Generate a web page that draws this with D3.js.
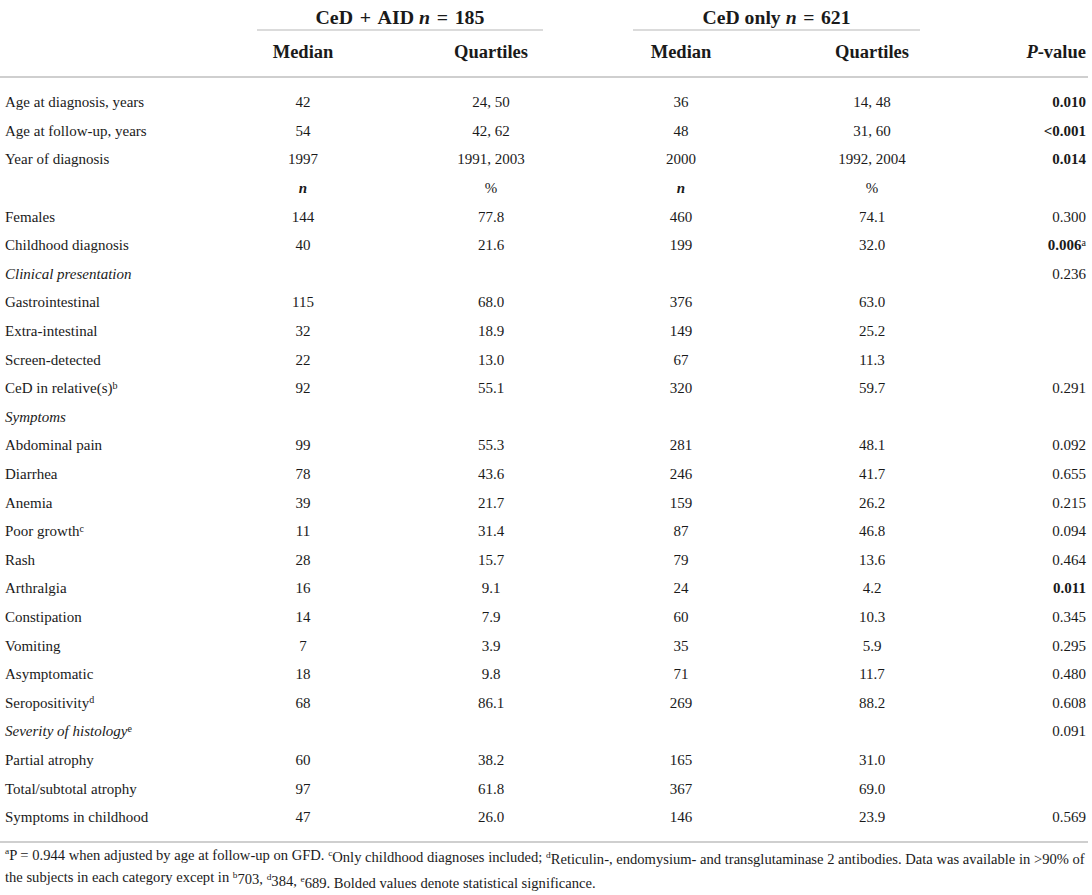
<!DOCTYPE html>
<html>
<head>
<meta charset="utf-8">
<script src="https://cdn.jsdelivr.net/npm/d3@7"></script>
<style>
  body { margin: 0; background: #fff; }
  text { font-family: "Liberation Serif", "Times New Roman", serif; fill: #1a1a1a; }
</style>
</head>
<body>
<script>
(function() {
    // table data
    var labels = ["Age at diagnosis, years", "Age at follow-up, years", "Year of diagnosis", "",
        "Females", "Childhood diagnosis", "Clinical presentation", "Gastrointestinal",
        "Extra-intestinal", "Screen-detected", "CeD in relative(s)", "Symptoms",
        "Abdominal pain", "Diarrhea", "Anemia", "Poor growth", "Rash", "Arthralgia",
        "Constipation", "Vomiting", "Asymptomatic", "Seropositivity", "Severity of histology",
        "Partial atrophy", "Total/subtotal atrophy", "Symptoms in childhood"];
    var labelSups = ["", "", "", "", "", "", "", "", "", "", "b", "", "", "", "", "c", "", "",
        "", "", "", "d", "e", "", "", ""];
    var italicRows = [6, 11, 22];
    var subHeadRow = 3;

    var aidMedian = ["42", "54", "1997", "n", "144", "40", "", "115", "32", "22", "92", "",
        "99", "78", "39", "11", "28", "16", "14", "7", "18", "68", "", "60", "97", "47"];
    var aidQuart = ["24, 50", "42, 62", "1991, 2003", "%", "77.8", "21.6", "", "68.0", "18.9",
        "13.0", "55.1", "", "55.3", "43.6", "21.7", "31.4", "15.7", "9.1", "7.9", "3.9", "9.8",
        "86.1", "", "38.2", "61.8", "26.0"];
    var onlyMedian = ["36", "48", "2000", "n", "460", "199", "", "376", "149", "67", "320", "",
        "281", "246", "159", "87", "79", "24", "60", "35", "71", "269", "", "165", "367", "146"];
    var onlyQuart = ["14, 48", "31, 60", "1992, 2004", "%", "74.1", "32.0", "", "63.0", "25.2",
        "11.3", "59.7", "", "48.1", "41.7", "26.2", "46.8", "13.6", "4.2", "10.3", "5.9", "11.7",
        "88.2", "", "31.0", "69.0", "23.9"];
    var pValues = ["0.010", "<0.001", "0.014", "", "0.300", "0.006", "0.236", "", "", "", "0.291", "",
        "0.092", "0.655", "0.215", "0.094", "0.464", "0.011", "0.345", "0.295", "0.480", "0.608",
        "0.091", "", "", "0.569"];
    var pSups = ["", "", "", "", "", "a", "", "", "", "", "", "", "", "", "", "", "", "", "", "",
        "", "", "", "", "", ""];
    var significant = ["0.010", "<0.001", "0.014", "0.006", "0.011"];

    var groups = ["CeD + AID", "CeD only"];
    var groupN = [185, 621];
    var columnHeads = ["Median", "Quartiles", "Median", "Quartiles"];

    var footnotes = [
        [["a", true], ["P = 0.944 when adjusted by age at follow-up on GFD. ", false], ["c", true],
         ["Only childhood diagnoses included; ", false], ["d", true],
         ["Reticulin-, endomysium- and transglutaminase 2 antibodies. Data was available in >90% of", false]],
        [["the subjects in each category except in ", false], ["b", true], ["703, ", false], ["d", true],
         ["384, ", false], ["e", true], ["689. Bolded values denote statistical significance.", false]]
    ];

    // layout settings
    var settings = {
        width: 1092,
        height: 895,
        fontSize: 15,
        headSize: 18.5,
        left: 5,
        right: 1086,
        lineColor: "#cfcfcf"
    };

    var svg = d3.select("body").append("svg")
        .attr("width", settings.width)
        .attr("height", settings.height);

    var y = d3.scalePoint()
        .domain(d3.range(labels.length))
        .range([102, 817]);

    var colX = [303, 491, 681, 872];
    var groupSpan = [[257, 543], [633, 920]];
    var groupTextWidth = [169, 148];

    // group headers
    groups.forEach(function(g, i) {
        var t = svg.append("text")
            .attr("x", (groupSpan[i][0] + groupSpan[i][1]) / 2)
            .attr("y", 17)
            .attr("dy", "0.35em")
            .attr("text-anchor", "middle")
            .attr("textLength", groupTextWidth[i])
            .attr("lengthAdjust", "spacingAndGlyphs")
            .style("font-size", "19px")
            .style("font-weight", "bold");
        t.append("tspan").text(g.replace(" + ", "\u2004+\u2004") + " ");
        t.append("tspan").style("font-style", "italic").text("n");
        t.append("tspan").text("\u2004=\u2004" + groupN[i]);

        svg.append("line")
            .attr("x1", groupSpan[i][0]).attr("x2", groupSpan[i][1])
            .attr("y1", 30).attr("y2", 30)
            .attr("stroke", settings.lineColor).attr("stroke-width", 1.5);
    });

    // column headers
    svg.selectAll(".colhead")
        .data(columnHeads)
        .enter()
        .append("text")
            .attr("x", function(d, i) { return colX[i]; })
            .attr("y", 52)
            .attr("dy", "0.35em")
            .attr("text-anchor", "middle")
            .style("font-size", settings.headSize + "px")
            .style("font-weight", "bold")
            .text(function(d) { return d; });

    var ph = svg.append("text")
        .attr("x", settings.right)
        .attr("y", 52)
        .attr("dy", "0.35em")
        .attr("text-anchor", "end")
        .style("font-size", settings.headSize + "px")
        .style("font-weight", "bold");
    ph.append("tspan").style("font-style", "italic").text("P");
    ph.append("tspan").text("-value");

    svg.append("line")
        .attr("x1", 0).attr("x2", 1088)
        .attr("y1", 77).attr("y2", 77)
        .attr("stroke", settings.lineColor).attr("stroke-width", 2);

    // row labels
    var lab = svg.selectAll(".label")
        .data(labels)
        .enter()
        .append("text")
            .attr("x", settings.left)
            .attr("y", function(d, i) { return y(i); })
            .attr("dy", "0.35em")
            .style("font-size", settings.fontSize + "px")
            .style("font-style", function(d, i) { return italicRows.indexOf(i) === -1 ? "normal" : "italic"; });
    lab.append("tspan").text(function(d) { return d; });
    lab.append("tspan")
        .attr("dy", "-0.45em")
        .style("font-size", "10px")
        .style("font-style", "normal")
        .text(function(d, i) { return labelSups[i]; });

    // value columns
    [aidMedian, aidQuart, onlyMedian, onlyQuart].forEach(function(col, c) {
        svg.selectAll(".col" + c)
            .data(col)
            .enter()
            .append("text")
                .attr("x", colX[c])
                .attr("y", function(d, i) { return y(i); })
                .attr("dy", "0.35em")
                .attr("text-anchor", "middle")
                .style("font-size", settings.fontSize + "px")
                .style("font-weight", function(d, i) { return (i === subHeadRow && d === "n") ? "bold" : "normal"; })
                .style("font-style", function(d, i) { return (i === subHeadRow && d === "n") ? "italic" : "normal"; })
                .text(function(d) { return d; });
    });

    // p-values
    var pv = svg.selectAll(".pval")
        .data(pValues)
        .enter()
        .append("text")
            .attr("x", settings.right)
            .attr("y", function(d, i) { return y(i); })
            .attr("dy", "0.35em")
            .attr("text-anchor", "end")
            .style("font-size", settings.fontSize + "px");
    pv.append("tspan")
        .style("font-weight", function(d) { return significant.indexOf(d) === -1 ? "normal" : "bold"; })
        .text(function(d) { return d; });
    pv.append("tspan")
        .attr("dy", "-0.45em")
        .style("font-size", "10px")
        .text(function(d, i) { return pSups[i]; });

    svg.append("line")
        .attr("x1", 0).attr("x2", 1088)
        .attr("y1", 842).attr("y2", 842)
        .attr("stroke", settings.lineColor).attr("stroke-width", 2);

    // footnotes, squeezed horizontally like the condensed original
    var notes = footnotes.map(function(parts) {
        var t = svg.append("text")
            .style("font-size", "14px");
        var prevSup = false;
        parts.forEach(function(p) {
            var dy = p[1] ? "-0.4em" : (prevSup ? "0.4em" : null);
            t.append("tspan")
                .attr("dy", dy)
                .style("font-size", p[1] ? "9px" : null)
                .text(p[0]);
            prevSup = p[1];
        });
        return t;
    });
    var w = notes[0].node().getComputedTextLength();
    var sx = (settings.right - settings.left) / w;
    notes.forEach(function(t, i) {
        t.attr("transform", "translate(" + settings.left + "," + (858 + i * 24) + ") scale(" + sx + ",1)");
    });
})();
</script>
</body>
</html>
